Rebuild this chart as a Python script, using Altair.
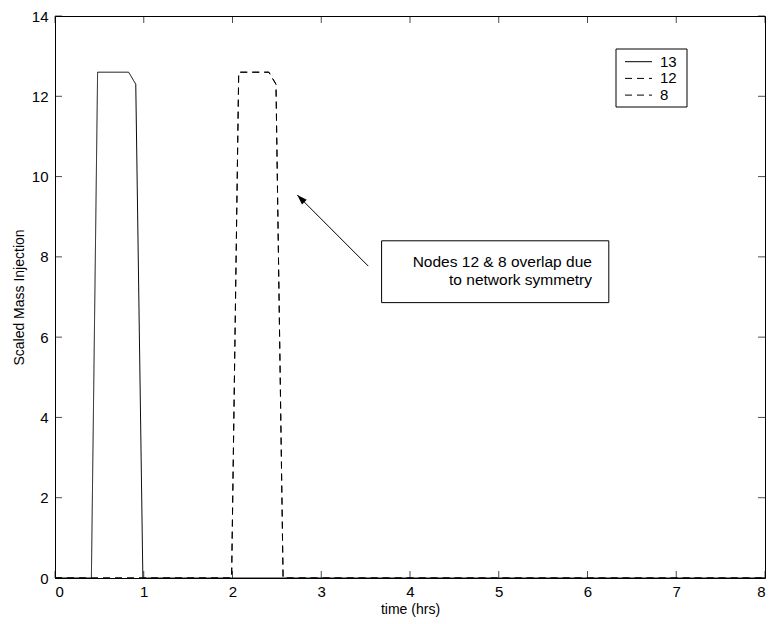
import altair as alt
import pandas as pd

# ---- data ----
t_13 = [0, 0.41, 0.48, 0.83, 0.91, 0.99, 8]
m_13 = [0, 0, 12.6, 12.6, 12.3, 0, 0]
t_12 = [0, 1.99, 2.07, 2.41, 2.49, 2.57, 8]
m_12 = [0, 0, 12.6, 12.6, 12.3, 0, 0]
t_8 = [0, 1.99, 2.07, 2.41, 2.49, 2.57, 8]
m_8 = [0, 0, 12.6, 12.6, 12.3, 0, 0]
nodes = ["13", "12", "8"]
dashes = [[1, 0], [7, 5], [7, 5]]

x_ticks = [0, 1, 2, 3, 4, 5, 6, 7, 8]
y_ticks = [0, 2, 4, 6, 8, 10, 12, 14]

note_lines = ["Nodes 12 & 8 overlap due", "to network symmetry"]
note_x = [4.03, 4.44]
note_y = [7.87, 7.42]
box_x = [3.68]
box_x2 = [6.24]
box_y = [6.86]
box_y2 = [8.40]
arrow_x = [3.53, 2.73]
arrow_y = [7.77, 9.54]

W, H = 710, 562
FONT = "Liberation Sans"

rows = []
for node, ts, ms in [("13", t_13, m_13), ("12", t_12, m_12), ("8", t_8, m_8)]:
    for i, (t, m) in enumerate(zip(ts, ms)):
        rows.append({"node": node, "t": t, "m": m, "i": i})
df = pd.DataFrame(rows)

xs = alt.Scale(domain=[0, 8], nice=False, zero=False)
ys = alt.Scale(domain=[0, 14], nice=False, zero=False)

lines = alt.Chart(df).mark_line(color="black", strokeWidth=1).encode(
    x=alt.X("t:Q", scale=xs, title="time (hrs)",
            axis=alt.Axis(values=x_ticks, format="d", grid=False, ticks=False, tickSize=0, domain=False,
                          labelFontSize=15, labelPadding=6, titleFontSize=14,
                          titleFontWeight="normal", titlePadding=3, labelFont=FONT,
                          titleFont=FONT, labelColor="black", titleColor="black")),
    y=alt.Y("m:Q", scale=ys, title="Scaled Mass Injection",
            axis=alt.Axis(values=y_ticks, format="d", grid=False, ticks=False, tickSize=0, domain=False,
                          labelFontSize=15, labelPadding=7, titleFontSize=14,
                          titleFontWeight="normal", titlePadding=5, labelFont=FONT,
                          titleFont=FONT, labelColor="black", titleColor="black")),
    strokeDash=alt.StrokeDash("node:N", scale=alt.Scale(domain=nodes, range=dashes), legend=None),
    order="i:Q",
    detail="node:N",
)

xt = pd.DataFrame({"v": x_ticks})
yt = pd.DataFrame({"v": y_ticks})
xtick_b = alt.Chart(xt).mark_tick(color="black", orient="vertical", size=7, thickness=1).encode(
    x=alt.X("v:Q", scale=xs), y=alt.value(H - 3.5))
xtick_t = alt.Chart(xt).mark_tick(color="black", orient="vertical", size=7, thickness=1).encode(
    x=alt.X("v:Q", scale=xs), y=alt.value(3.5))
ytick_l = alt.Chart(yt).mark_tick(color="black", orient="horizontal", size=7, thickness=1).encode(
    y=alt.Y("v:Q", scale=ys), x=alt.value(3.5))
ytick_r = alt.Chart(yt).mark_tick(color="black", orient="horizontal", size=7, thickness=1).encode(
    y=alt.Y("v:Q", scale=ys), x=alt.value(W - 3.5))

box = alt.Chart(pd.DataFrame({"x": box_x, "x2": box_x2, "y": box_y, "y2": box_y2})).mark_rect(
    fill="white", stroke="black", strokeWidth=1).encode(
    x=alt.X("x:Q", scale=xs), x2="x2:Q", y=alt.Y("y:Q", scale=ys), y2="y2:Q")

note = alt.Chart(pd.DataFrame({"x": note_x, "y": note_y, "txt": note_lines})).mark_text(
    align="left", baseline="middle", fontSize=15.5, font=FONT, color="black").encode(
    x=alt.X("x:Q", scale=xs), y=alt.Y("y:Q", scale=ys), text="txt:N")

adf = pd.DataFrame({"x": arrow_x, "y": arrow_y, "o": [0, 1]})
arrow_line = alt.Chart(adf).mark_line(color="black", strokeWidth=1).encode(
    x=alt.X("x:Q", scale=xs), y=alt.Y("y:Q", scale=ys), order="o:Q")
arrow_head = alt.Chart(adf.iloc[[1]]).mark_point(
    shape="M0,0L-0.4,1.2L0.4,1.2Z", filled=True, color="black", opacity=1, size=280, angle=315).encode(
    x=alt.X("x:Q", scale=xs), y=alt.Y("y:Q", scale=ys))

# ---- legend (manual, matlab-style box) ----
LX, LY = 561, 33
leg_box = alt.Chart(pd.DataFrame({"a": [0]})).mark_rect(
    fill="white", stroke="black", strokeWidth=1).encode(
    x=alt.value(LX), x2=alt.value(LX + 71), y=alt.value(LY), y2=alt.value(LY + 58))
leg_layers = [leg_box]
for k, (nm, d) in enumerate(zip(nodes, dashes)):
    ry = LY + 12.7 + k * 16.7
    leg_layers.append(
        alt.Chart(pd.DataFrame({"n": [nm]})).mark_rule(color="black", strokeWidth=1, strokeDash=d).encode(
            x=alt.value(LX + 9), x2=alt.value(LX + 36), y=alt.value(ry)))
    leg_layers.append(
        alt.Chart(pd.DataFrame({"n": [nm]})).mark_text(
            align="left", baseline="middle", fontSize=15, font=FONT, color="black").encode(
            x=alt.value(LX + 44), y=alt.value(ry), text="n:N"))

chart = alt.layer(lines, xtick_b, xtick_t, ytick_l, ytick_r, box, note, arrow_line, arrow_head,
                  *leg_layers).properties(
    width=W, height=H,
    autosize=alt.AutoSizeParams(type="none"),
    padding={"left": 55, "top": 16, "right": 8, "bottom": 46},
    background="white",
).configure_view(stroke="black", strokeWidth=1)

chart.save("out.html", embed_options={"renderer": "svg", "actions": False})
